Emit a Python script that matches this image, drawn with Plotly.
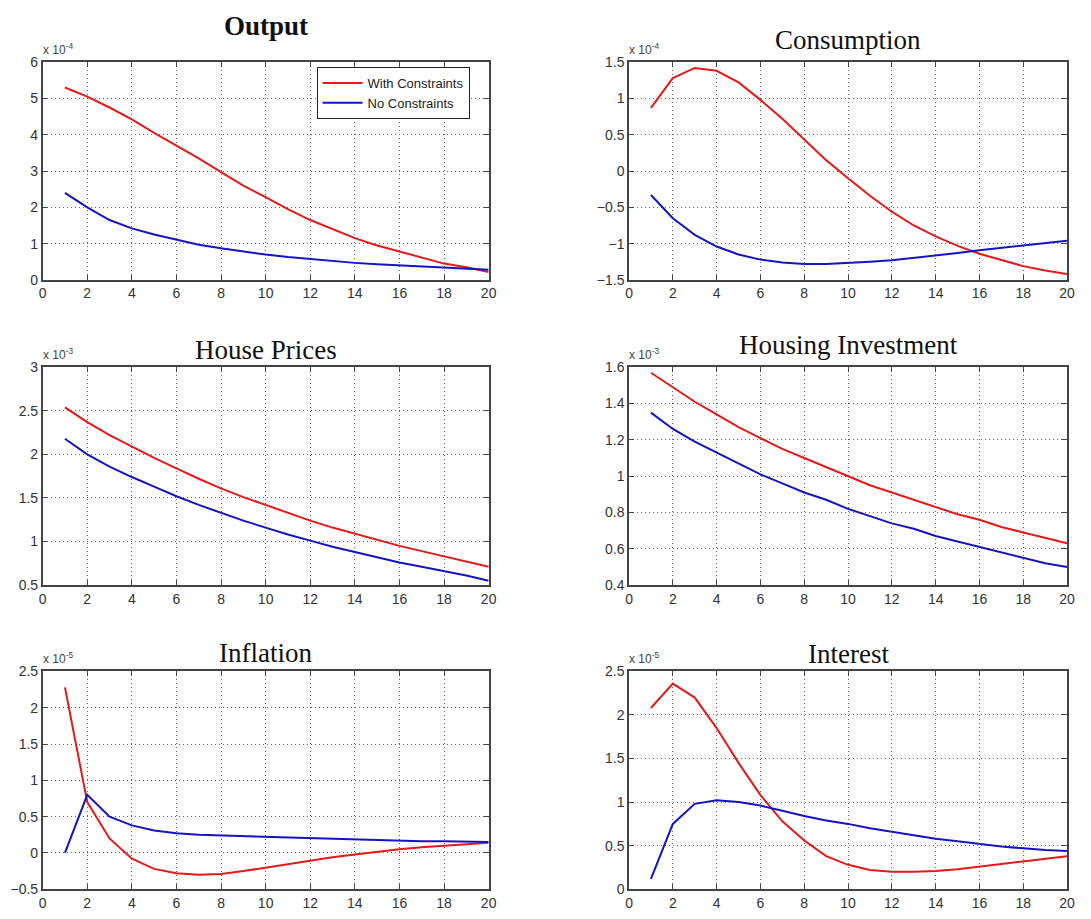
import plotly.graph_objects as go

periods = list(range(1, 21))

# Output (x 1e-4)
output_with = [5.3, 5.05, 4.75, 4.42, 4.05, 3.7, 3.35, 2.97, 2.6, 2.28, 1.95, 1.65, 1.4, 1.15, 0.95, 0.78, 0.6, 0.45, 0.35, 0.22]
output_no = [2.4, 2.0, 1.65, 1.42, 1.25, 1.1, 0.97, 0.87, 0.78, 0.7, 0.63, 0.57, 0.52, 0.47, 0.43, 0.4, 0.37, 0.34, 0.3, 0.28]
# Consumption (x 1e-4)
cons_with = [0.87, 1.28, 1.42, 1.38, 1.22, 0.98, 0.72, 0.44, 0.15, -0.1, -0.34, -0.56, -0.75, -0.9, -1.03, -1.14, -1.23, -1.31, -1.37, -1.42]
cons_no = [-0.33, -0.65, -0.88, -1.04, -1.15, -1.22, -1.26, -1.28, -1.28, -1.27, -1.25, -1.23, -1.2, -1.17, -1.13, -1.09, -1.06, -1.03, -1.0, -0.96]
# House Prices (x 1e-3)
hp_with = [2.54, 2.37, 2.22, 2.09, 1.96, 1.84, 1.72, 1.61, 1.51, 1.42, 1.33, 1.24, 1.16, 1.09, 1.02, 0.95, 0.89, 0.83, 0.77, 0.71]
hp_no = [2.18, 2.0, 1.86, 1.74, 1.63, 1.52, 1.42, 1.33, 1.24, 1.16, 1.08, 1.01, 0.94, 0.88, 0.82, 0.76, 0.71, 0.66, 0.61, 0.55]
# Housing Investment (x 1e-3)
hi_with = [1.57, 1.49, 1.41, 1.34, 1.27, 1.21, 1.15, 1.10, 1.05, 1.0, 0.95, 0.91, 0.87, 0.83, 0.79, 0.76, 0.72, 0.69, 0.66, 0.63]
hi_no = [1.35, 1.26, 1.19, 1.13, 1.07, 1.01, 0.96, 0.91, 0.87, 0.82, 0.78, 0.74, 0.71, 0.67, 0.64, 0.61, 0.58, 0.55, 0.52, 0.50]
# Inflation (x 1e-5)
inf_with = [2.28, 0.7, 0.2, -0.08, -0.22, -0.28, -0.3, -0.29, -0.25, -0.2, -0.15, -0.1, -0.06, -0.02, 0.02, 0.05, 0.08, 0.1, 0.12, 0.14]
inf_no = [0.0, 0.8, 0.5, 0.38, 0.31, 0.27, 0.25, 0.24, 0.23, 0.22, 0.21, 0.2, 0.19, 0.18, 0.17, 0.17, 0.16, 0.16, 0.15, 0.15]
# Interest (x 1e-5)
int_with = [2.08, 2.36, 2.2, 1.85, 1.45, 1.08, 0.78, 0.56, 0.38, 0.28, 0.22, 0.2, 0.2, 0.21, 0.23, 0.26, 0.29, 0.32, 0.35, 0.38]
int_no = [0.12, 0.75, 0.98, 1.02, 1.0, 0.96, 0.9, 0.84, 0.79, 0.75, 0.7, 0.66, 0.62, 0.58, 0.55, 0.52, 0.49, 0.47, 0.45, 0.44]

titles = ["Output", "Consumption", "House Prices", "Housing Investment", "Inflation", "Interest"]
exponents = ["-4", "-4", "-3", "-3", "-5", "-5"]
series_with = [output_with, cons_with, hp_with, hi_with, inf_with, int_with]
series_no = [output_no, cons_no, hp_no, hi_no, inf_no, int_no]
y_ranges = [(0, 6), (-1.5, 1.5), (0.5, 3), (0.4, 1.6), (-0.5, 2.5), (0, 2.5)]
y_dticks = [1, 0.5, 0.5, 0.2, 0.5, 0.5]

# page is 1091x919; the body has an 8px margin, so the figure is 1075x903
OFF = 8
FW, FH = 1075, 903
col_px = [(39, 490), (632, 1075)]
row_px = [(55, 277), (366, 588), (676, 898)]
title_cy = [18, 32, 348, 343, 657, 658]


def px_x(p):
    return (p - OFF) / FW


def px_y(p):
    return 1 - (p - OFF) / FH


RED = "#e41a1a"
BLUE = "#1414c4"

fig = go.Figure()
annotations = []
for i in range(6):
    r, c = divmod(i, 2)
    ax = "" if i == 0 else str(i + 1)
    x0, x1 = col_px[c]
    y0, y1 = row_px[r]
    fig.add_trace(go.Scatter(x=periods, y=series_with[i], mode="lines",
                             line=dict(color=RED, width=2), name="With Constraints",
                             showlegend=(i == 0), xaxis="x" + ax, yaxis="y" + ax))
    fig.add_trace(go.Scatter(x=periods, y=series_no[i], mode="lines",
                             line=dict(color=BLUE, width=2), name="No Constraints",
                             showlegend=(i == 0), xaxis="x" + ax, yaxis="y" + ax))
    common = dict(showline=True, linecolor="#444", linewidth=1.5, mirror="ticks",
                  ticks="inside", ticklen=5, tickcolor="#444",
                  showgrid=True, gridcolor="#666", griddash="1px,3px", gridwidth=1,
                  zeroline=False, tickfont=dict(family="Liberation Sans", size=14, color="#333"))
    fig.update_layout(**{
        "xaxis" + ax: dict(domain=[px_x(x0), px_x(x1)], range=[0, 20], dtick=2, tick0=0,
                           anchor="y" + ax, **common),
        "yaxis" + ax: dict(domain=[px_y(y1), px_y(y0)], range=list(y_ranges[i]),
                           dtick=y_dticks[i], tick0=y_ranges[i][0], anchor="x" + ax, **common),
    })
    # title
    annotations.append(dict(
        text=("<b>%s</b>" % titles[i]) if i == 0 else titles[i],
        x=px_x((x0 + x1) / 2), y=px_y(title_cy[i]), xref="paper", yref="paper",
        xanchor="center", yanchor="middle", showarrow=False,
        font=dict(family="Liberation Serif", size=27, color="#111")))
    # exponent label
    annotations.append(dict(
        text="x 10<sup>%s</sup>" % exponents[i],
        x=px_x(x0 - 2), y=px_y(y0 - 3), xref="paper", yref="paper",
        xanchor="left", yanchor="bottom", showarrow=False,
        font=dict(family="Liberation Sans", size=12, color="#444")))

fig.update_layout(
    width=FW, height=FH,
    margin=dict(l=0, r=0, t=0, b=0),
    paper_bgcolor="white", plot_bgcolor="white",
    annotations=annotations,
    showlegend=True,
    legend=dict(x=px_x(316), y=px_y(60), xanchor="left", yanchor="top",
                bgcolor="white", bordercolor="#222", borderwidth=1,
                font=dict(family="Liberation Sans", size=13, color="#222"),
                tracegroupgap=0, itemwidth=40),
)

fig.write_html("out.html")
